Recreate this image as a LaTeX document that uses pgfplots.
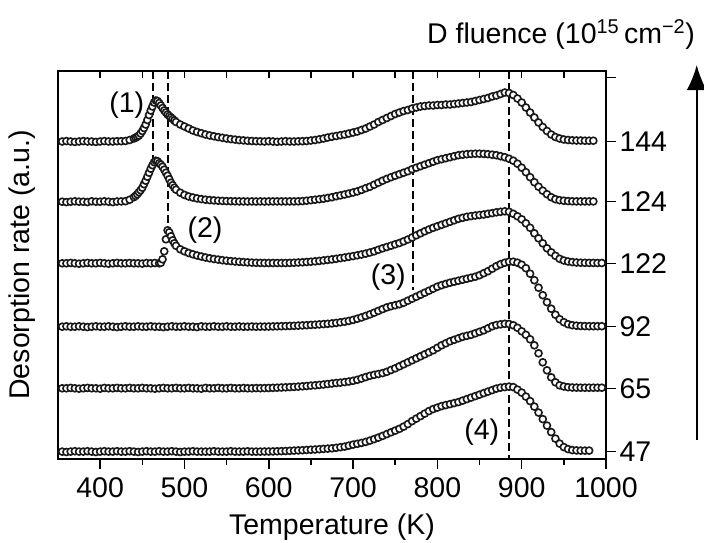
\documentclass[border=0pt]{standalone}
\usepackage{pgfplots}
\pgfplotsset{compat=1.18}
\usepackage{pgfplotstable}
\usetikzlibrary{arrows.meta}
\usepackage{fontspec}
\setmainfont{Liberation Sans}
\newcommand{\bigf}{\fontsize{28.5}{34}\selectfont}
% heights above each curve's own baseline; a=144, b=124
\pgfplotstableread{
T a b
355 0 0
360 0.4 -0.4
365 0 0
370 -0.4 0.4
375 0 0
380 0.4 0
385 0 -0.4
390 0 0.4
395 -0.4 0
400 0 0
405 0.4 0.4
410 0 0
415 0 -0.4
420 0.3 0.2
425 0.3 0.3
430 0.5 0.5
435 1.5 2
440 3 4.5
442 3.8 5.8
444 4.8 7.5
446 6 9.5
448 8 11.5
450 10.5 14
452 13.5 17.5
454 17 21
456 21.5 25
458 26.5 29
460 31 33
462 35 36.5
464 39 39.5
466 41 41
468 40.5 40.5
470 38.5 38.5
472 36 37
474 33.5 35
476 31 32
478 29 29
480 27 26
482 25.5 22.5
484 24 19
486 22.5 16.5
488 21 14
490 19.5 12
495 17 9
500 15 6.8
505 13 5.2
510 11 4.2
515 9.5 3.3
520 8.3 2.6
525 7 2
530 6 1.6
535 5.2 1.3
540 4.4 1
545 3.7 0.8
550 3 0.6
555 2.4 0.5
560 1.9 0.4
565 1.4 0.3
570 1.1 0.3
575 0.7 0.2
580 0.5 0.3
585 0.3 0.2
590 0.2 0.3
595 0 0.2
600 0.3 0.3
605 0 0.3
610 -0.3 0.3
615 0 0.3
620 0.3 0.3
625 0 0.3
630 0 0.3
635 0.2 0.4
640 0.3 0.6
645 0.5 1
650 1 1.5
655 1.5 2
660 2.2 2.5
665 3 3
670 4 3.8
675 4.8 4.5
680 5.5 5.5
685 6.3 6.3
690 7 7.2
695 8 8.2
700 9 9.2
705 10 10.3
710 11.5 11.8
715 13 13.5
720 15 15
725 17 17
730 19.5 19
735 21.5 21
740 23.5 22.8
745 25.5 24.5
750 27.5 26
755 29 27.5
760 30.5 29
765 31.5 30.5
770 33 32.5
775 34 34
780 35 35.5
785 35.5 37
790 36 38.5
795 36 40
800 36.5 41.5
805 36.5 42.5
810 37 43.5
815 37 44.5
820 37.5 45.5
825 38 46.5
830 38.5 47
835 39 47.5
840 39.5 47.8
845 40.5 48
850 41.5 48
855 42.5 47.8
860 43.5 47.5
865 45 47
870 46 46.5
875 47.5 45.5
880 49 44.5
885 48.5 43
890 46.5 41
895 43 38
900 39 34
905 34 29.5
910 29 24.5
915 24 19.5
920 19 15
925 14.5 11
930 10.5 7.5
935 7 4.5
940 4.5 2.5
945 3 1.5
950 2 1
955 1.5 0.6
960 1.2 0.4
965 1 0.3
970 1 0.3
975 0.8 0.3
980 0.8 0.3
985 0.8 0.3
}\tabA
% c=122
\pgfplotstableread{
T c
355 0
360 0
365 0.4
370 0
375 -0.4
380 0
385 0.4
390 0
395 0
400 0.4
405 0
410 -0.4
415 0
420 0.4
425 0
430 0
435 0.3
440 0
445 0
450 -0.3
455 0.3
460 0
465 0.3
470 0
472 0.5
474 4
476 12
478 24
480 33
482 31
484 27
486 23
488 20
490 17.5
495 14
500 12
505 10.3
510 9
515 7.8
520 6.8
525 5.8
530 5
535 4.3
540 3.7
545 3.1
550 2.6
555 2.2
560 1.8
565 1.5
570 1.2
575 0.9
580 0.7
585 0.5
590 0.4
595 0.3
600 0.3
605 0.3
610 0.3
615 0.3
620 0.3
625 0.4
630 0.6
635 0.8
640 1
645 1.3
650 1.6
655 2
660 2.4
665 2.9
670 3.4
675 3.9
680 4.5
685 5.2
690 5.8
695 6.5
700 7.2
705 8
710 8.8
715 9.7
720 10.8
725 12
730 13.5
735 15
740 16.3
745 17.6
750 19
755 20.3
760 22
765 23.8
770 25.8
775 28
780 30
785 32
790 33.8
795 35.5
800 37
805 38.5
810 40
815 41.5
820 43
825 44.5
830 45.5
835 46.5
840 47.2
845 47.8
850 48.3
855 48.8
860 49.5
865 50.2
870 51
875 51.5
880 52
885 51.5
890 49.5
895 47
900 44
905 40
910 35.5
915 30
920 25
925 20
930 15
935 11
940 7.5
945 4.5
950 2.8
955 1.8
960 1.2
965 0.8
970 0.6
975 0.5
980 0.4
985 0.4
990 0.3
995 0.3
}\tabC
% d=92, e=65, f=47
\pgfplotstableread{
T d e f
355 0 0 0
360 0.4 0 -0.4
365 0 0.4 0
370 0 0 0.4
375 0.4 -0.4 0
380 0 0 0
385 -0.4 0.4 0.4
390 0 0 0
395 0.4 0 -0.4
400 0 -0.4 0
405 0 0.4 0.4
410 0.4 0 0
415 0 0 0
420 -0.4 0.4 0.4
425 0 0 0
430 0.4 0 0
435 0 0.4 0.4
440 0 0 0
445 0.4 0 -0.4
450 0 0.4 0
455 0 0 0.4
460 0.4 0 0
465 0 -0.4 0
470 0 0 0.4
475 -0.4 0.4 0
480 0 0 0
485 0.4 0 0.4
490 0 0.4 0
495 0 0 -0.4
500 0.4 0 0
505 0 0.4 0
510 0 0 0.4
515 -0.4 0 0
520 0.4 -0.4 0
525 0 0.4 0
530 0 0 0
535 0.4 0 0.4
540 0 0.4 0
545 0 0 0
550 0.4 0 0
555 0 0.4 0.4
560 0 0 0
565 0.3 0 0
570 0 0.3 0
575 0 0 0.3
580 0.2 0 0
585 0 0.2 0
590 0.1 0.1 0
595 0.1 0.2 0.1
600 0.2 0.3 0.1
605 0.3 0.45 0.2
610 0.4 0.6 0.3
615 0.5 0.8 0.45
620 0.6 1 0.6
625 0.75 1.2 0.8
630 0.9 1.4 1
635 1.1 1.7 1.2
640 1.3 2 1.4
645 1.5 2.3 1.65
650 1.8 2.7 1.9
655 2 3 2.1
660 2.3 3.4 2.4
665 2.6 3.8 2.7
670 2.9 4.3 3
675 3.3 4.8 3.3
680 3.8 5.3 3.8
685 4.4 5.7 4.4
690 5 6.2 5
695 5.8 6.8 6
700 6.8 7.5 7
705 8 8.5 7.8
710 9.3 9.8 8.7
715 10.8 11.2 9.7
720 12.3 12.5 11
725 14 13.5 12.5
730 15.8 14.3 14
735 17.6 15.2 15.7
740 19.3 16.5 17.5
745 20.5 18.3 19.3
750 21.5 20 21
755 22.5 22 22.8
760 24 24 25
765 26 26 27.5
770 28 28 30.5
775 30 30 33
780 32 32 35.5
785 34 34 38
790 36 36 40.5
795 38 38 42.5
800 40 40.5 44
805 41.5 43 45.5
810 42.8 45 46.5
815 44 47 47.5
820 45 48.5 48.5
825 46 50 49.5
830 47 51.5 51
835 48 52.5 52.5
840 49 53.5 54
845 50 55 55.5
850 51.5 56.5 57
855 53.5 58 58.5
860 55.5 60 60
865 58 62 61.5
870 60.5 63.3 63
875 62.5 64 64
880 64 64.5 64.5
885 65 64.3 65
890 65 63 64.5
895 64 60.5 62
900 62 57 59
905 58.5 53.5 55
910 53 49 50.5
915 46.5 43 45
920 39 35 39
925 31.5 26 32.5
930 24.5 18 26
935 18 11 19.5
940 12 6 13
945 7.5 3 8
950 4.5 1.8 4.5
955 2.5 1.1 2.5
960 1.5 0.8 1.5
965 1 0.7 1.2
970 0.7 0.6 1
975 0.6 0.6 1
980 0.5 0.6 1
985 0.5 0.6 0
990 0.5 0.6 0
995 0.5 0.6 0
}\tabD

\begin{document}
\begin{tikzpicture}
\useasboundingbox (-58pt,-83pt) rectangle (646pt,459pt);
\pgfplotsset{
  common/.style={
    at={(0pt,0pt)}, anchor=south west,
    scale only axis, width=548pt, height=388pt,
    xmin=350, xmax=1000, ymin=0, ymax=388,
    axis line style={line width=1.6pt},
    xtick={400,500,...,1000}, minor x tick num=1,
    every tick/.style={line width=1.5pt, black},
    /pgf/number format/assume math mode=true,
    /pgf/number format/1000 sep={},
    tick label style={font=\bigf},
    label style={font=\bigf},
  },
  curve/.style={only marks, mark=*, mark size=3.5pt,
    mark options={fill=white, draw=black!90, line width=1.6pt}},
  vline/.style={black, line width=2pt, dash pattern=on 8pt off 4pt},
}
\begin{axis}[common,
  axis x line*=top, axis y line=none,
  tick align=inside, xticklabels={},
  major tick length=7.5pt, minor tick length=7.5pt,
]
\end{axis}
\begin{axis}[common,
  clip=false,
  major tick length=10pt, minor tick length=5.5pt,
  xtick pos=bottom,
  ytick pos=right, yticklabel pos=right,
  tick align=outside,
  xticklabel style={yshift=-5pt},
  ytick={7.4,70.7,132.3,195.7,257.3,317.5,381.3},
  yticklabels={\mbox{47},\mbox{65},\mbox{92},\mbox{122},\mbox{124},\mbox{144},{}},
  xlabel={Temperature (K)},
  ylabel={Desorption rate (a.u.)},
  xlabel style={at={(axis description cs:0.5,-0.1946)}, anchor=base},
  ylabel style={at={(axis description cs:-0.0657,0.5)}, anchor=center},
]
\addplot[curve] table[x=T, y expr=\thisrow{a}+317.5] {\tabA};
\addplot[curve] table[x=T, y expr=\thisrow{b}+257.3] {\tabA};
\addplot[curve] table[x=T, y expr=\thisrow{c}+195.7] {\tabC};
\addplot[curve] table[x=T, y expr=\thisrow{d}+132.3] {\tabD};
\addplot[curve] table[x=T, y expr=\thisrow{e}+70.7] {\tabD};
\addplot[curve, restrict x to domain=350:981] table[x=T, y expr=\thisrow{f}+7.4] {\tabD};
\addplot[vline] coordinates {(463,388) (463,297)};
\addplot[vline] coordinates {(480.8,388) (480.8,229)};
\addplot[vline] coordinates {(771.5,388) (771.5,169)};
\addplot[vline] coordinates {(885.4,388) (885.4,0)};
\node[font=\bigf] at (axis cs:431.5,354) {(1)};
\node[font=\bigf] at (axis cs:524.4,228.5) {(2)};
\node[font=\bigf] at (axis cs:741.8,181.5) {(3)};
\node[font=\bigf] at (axis cs:852.6,26.5) {(4)};
\draw[line width=2pt, -{Latex[length=25pt,width=20pt]}] (axis cs:1107.6,19) -- (axis cs:1107.6,394);
\node[font=\bigf, anchor=base east, inner sep=0pt] at (axis cs:1105.6,416) {D fluence (10\textsuperscript{15}\,cm\textsuperscript{−2})};
\end{axis}
\end{tikzpicture}
\end{document}
